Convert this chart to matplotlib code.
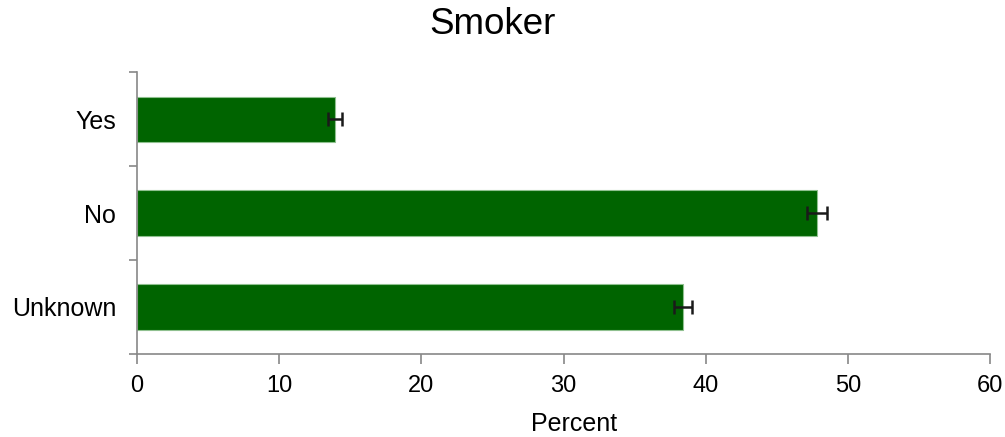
import numpy as np
import matplotlib
matplotlib.use("Agg")
import matplotlib.pyplot as plt

categories = ["Yes", "No", "Unknown"]
percent = [13.9, 47.8, 38.4]
errors = [0.5, 0.7, 0.65]

plt.rcParams['font.family'] = ['Liberation Sans', 'DejaVu Sans']

fig = plt.figure(figsize=(10.05, 4.37), dpi=100)
ax = fig.add_axes([0.1363, 0.19, 0.849, 0.645])

y = np.arange(len(categories))
ax.barh(y, percent, height=0.48, color='#006400', edgecolor='#8fc08f', linewidth=0.8)
ax.errorbar(percent, y, xerr=errors, fmt='none', ecolor='#1a1a1a', elinewidth=1.8,
            capsize=5, capthick=1.8)

ax.set_ylim(2.5, -0.5)
ax.set_xlim(0, 60)
ax.set_yticks(y)
ax.set_yticklabels(categories, fontsize=18)
ax.tick_params(axis='y', length=0, pad=15)
ax.set_yticks([-0.5, 0.5, 1.5, 2.5], minor=True)
ax.tick_params(axis='y', which='minor', length=6, color='#888888', width=1.2)
ax.set_xticks(range(0, 61, 10))
ax.tick_params(axis='x', length=7, color='#888888', width=1.2, labelsize=17, pad=8)

for side in ['top', 'right']:
    ax.spines[side].set_visible(False)
for side in ['left', 'bottom']:
    ax.spines[side].set_color('#888888')
    ax.spines[side].set_linewidth(1.2)

ax.set_xlabel("Percent", fontsize=18, labelpad=11, x=0.512)
fig.suptitle("Smoker", fontsize=26.5, x=0.49, y=0.985)

fig.savefig("out.png", dpi=100)
